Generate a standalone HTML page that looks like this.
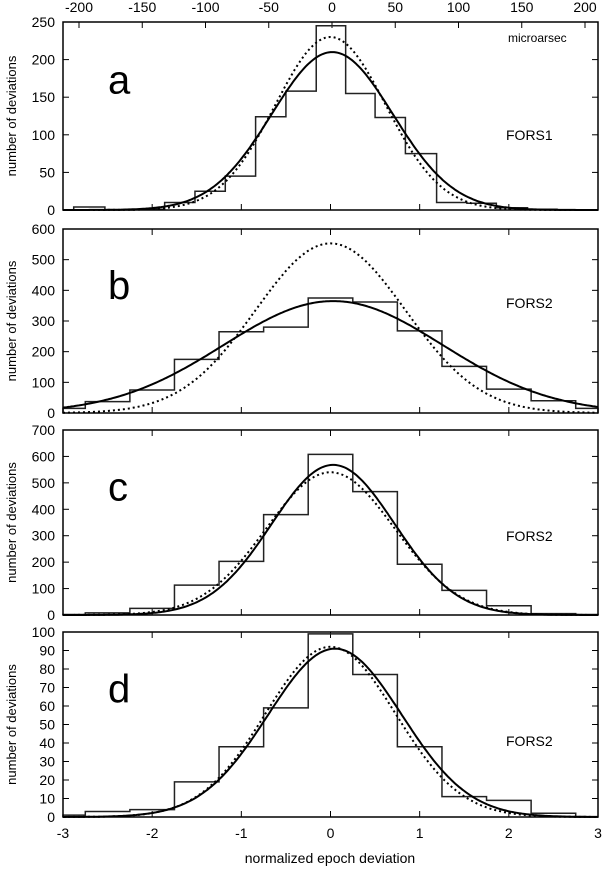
<!DOCTYPE html>
<html><head><meta charset="utf-8"><style>
body{margin:0;background:#fff;}
svg{display:block;font-family:"Liberation Sans",sans-serif;}
</style></head><body>
<svg id="chart" width="602" height="869" viewBox="0 0 602 869" xmlns="http://www.w3.org/2000/svg"></svg>
<script>
// shared bin edges (normalized units) for panels b,c,d
const edgesStd = [-3,-2.75,-2.25,-1.75,-1.25,-0.75,-0.25,0.25,0.75,1.25,1.75,2.25,2.75,3];
// panel a edges (different binning)
const edgesA = [-2.88,-2.53,-2.2,-1.86,-1.52,-1.18,-0.84,-0.5,-0.16,0.17,0.5,0.84,1.19,1.53,1.86,2.21,2.54,2.93];
const countsA = [4,0,1,10,25,45,124,158,245,155,123,75,10,9,3,1,0];
const countsB = [15,37,75,175,265,280,375,362,268,152,78,40,15];
const countsC = [2,8,25,113,203,380,608,467,192,93,35,5,2];
const countsD = [1,3,4,19,38,59,99,77,38,11,9,2,0];
// gaussian fit params: [amplitude, center, sigma]
const solidA = [210,0.02,0.68], dotA = [230,0.0,0.62];
const solidB = [365,0.03,1.23], dotB = [553,0.0,0.84];
const solidC = [568,0.03,0.69], dotC = [540,0.0,0.72];
const solidD = [91,0.05,0.75], dotD = [92,0.0,0.73];
const yTicksA = [0,50,100,150,200,250];
const yTicksB = [0,100,200,300,400,500,600];
const yTicksC = [0,100,200,300,400,500,600,700];
const yTicksD = [0,10,20,30,40,50,60,70,80,90,100];
const xTicks = [-3,-2,-1,0,1,2,3];
const topTicks = [-200,-150,-100,-50,0,50,100,150,200];

const NS="http://www.w3.org/2000/svg";
const svg=document.getElementById('chart');
const X0=63,X1=598;
const xs=v=>X0+(v+3)/6*(X1-X0);
const xTop=t=>332+t*1.265;
function mk(tag,attrs,parent){const e=document.createElementNS(NS,tag);for(const k in attrs)e.setAttribute(k,attrs[k]);(parent||svg).appendChild(e);return e;}

const panels=[
 {id:'a',top:22,bot:210,max:250,ticks:yTicksA,edges:edgesA,counts:countsA,s:solidA,d:dotA,label:'FORS1',labY:140},
 {id:'b',top:229,bot:413,max:600,ticks:yTicksB,edges:edgesStd,counts:countsB,s:solidB,d:dotB,label:'FORS2',labY:308},
 {id:'c',top:430,bot:615,max:700,ticks:yTicksC,edges:edgesStd,counts:countsC,s:solidC,d:dotC,label:'FORS2',labY:541},
 {id:'d',top:632,bot:817,max:100,ticks:yTicksD,edges:edgesStd,counts:countsD,s:solidD,d:dotD,label:'FORS2',labY:746}
];
panels.forEach(p=>{
  const g=mk('g',{});
  
  
  const ys=v=>p.bot-v/p.max*(p.bot-p.top);
  p.ticks.forEach(t=>{
    const y=ys(t);
    const tx=mk('text',{x:55,y:y+5,'text-anchor':'end','font-size':14},g);tx.textContent=t;
    
    
    mk('line',{x1:X0,x2:X0+6,y1:y,y2:y,stroke:'#000'},g);
    mk('line',{x1:X1-6,x2:X1,y1:y,y2:y,stroke:'#000'},g);
  });
  xTicks.forEach(t=>{
    mk('line',{x1:xs(t),x2:xs(t),y1:p.bot,y2:p.bot-6,stroke:'#000'},g);
    if(p.id!=='a')mk('line',{x1:xs(t),x2:xs(t),y1:p.top,y2:p.top+6,stroke:'#000'},g);
  });
  if(p.id==='a')topTicks.forEach(t=>{mk('line',{x1:xTop(t),x2:xTop(t),y1:p.top,y2:p.top+6,stroke:'#000'},g);});
  let dstr='M'+xs(p.edges[0])+','+p.bot;
  p.counts.forEach((c,i)=>{dstr+=' L'+xs(p.edges[i])+','+ys(c)+' L'+xs(p.edges[i+1])+','+ys(c);});
  dstr+=' L'+xs(p.edges[p.edges.length-1])+','+p.bot;
  const h=mk('path',{d:dstr,fill:'none',stroke:'#222','stroke-width':1.5},g);
  
  
  [[p.s,'solid'],[p.d,'dotted']].forEach(([pr,kind])=>{
    let s='';
    for(let i=0;i<=300;i++){const x=-3+6*i/300;const v=pr[0]*Math.exp(-Math.pow(x-pr[1],2)/(2*pr[2]*pr[2]));s+=(i?' L':'M')+xs(x).toFixed(1)+','+ys(v).toFixed(1);}
    const attrs={d:s,fill:'none',stroke:'#000','stroke-width':2};
    if(kind==='dotted')attrs['stroke-dasharray']='2,3';
    const c=mk('path',attrs,g);
    
    
  });
  const fr=mk('rect',{x:X0,y:p.top,width:X1-X0,height:p.bot-p.top,fill:'none',stroke:'#000','stroke-width':1.5},g);
  
  
  const L=mk('text',{x:108,y:p.top+(p.bot-p.top)*0.38,'font-size':40},g);L.textContent=p.id;
  
  
  const F=mk('text',{x:506,y:p.labY,'font-size':14},g);F.textContent=p.label;
  
  
  const yl=mk('text',{transform:'translate(16,'+((p.top+p.bot)/2)+') rotate(-90)','text-anchor':'middle','font-size':13},g);yl.textContent='number of deviations';
  
  
});
xTicks.forEach(t=>{const e=mk('text',{x:xs(t),y:838,'text-anchor':'middle','font-size':14});e.textContent=t;
  
  });
topTicks.forEach(t=>{const e=mk('text',{x:xTop(t),y:12,'text-anchor':'middle','font-size':14});e.textContent=t;
  
  });
const mu=mk('text',{x:508,y:42,'font-size':12});mu.textContent='microarsec';


const xl=mk('text',{x:330,y:863,'text-anchor':'middle','font-size':14});xl.textContent='normalized epoch deviation';


</script>
</body></html>
